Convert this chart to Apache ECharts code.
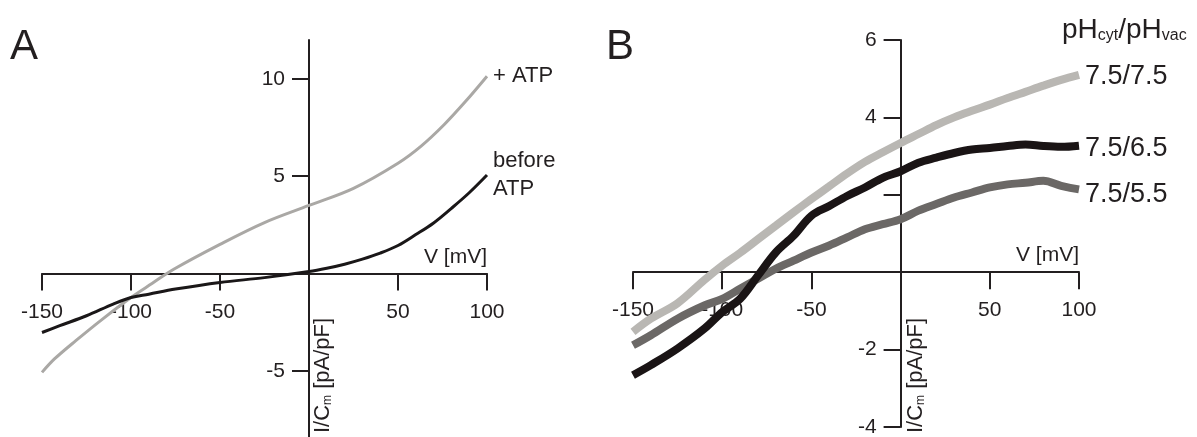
<!DOCTYPE html>
<html>
<head>
<meta charset="utf-8">
<script src="https://cdn.jsdelivr.net/npm/echarts@6/dist/echarts.min.js"></script>
<style>
html,body{margin:0;padding:0;background:#fff;}
#c{width:1197px;height:437px;}
</style>
</head>
<body>
<div id="c"></div>
<script>
// ---- Panel A data (V in mV, I/Cm in pA/pF)
const aVoltsPlus = [-150,-143,-131,-116,-100,-88,-76,-50,-25,0,25,50,63,76,88,100];
const aPlusATP   = [-5.08,-4.39,-3.45,-2.34,-1.23,-0.5,0.22,1.5,2.62,3.5,4.38,5.67,6.55,7.66,8.85,10.14];
const aVoltsBefore = [-150,-140,-125,-110,-100,-90,-75,-50,-25,0,10,20,30,40,50,60,70,80,90,100];
const aBeforeATP   = [-3.03,-2.68,-2.17,-1.57,-1.23,-1.06,-0.8,-0.46,-0.21,0.1,0.27,0.48,0.74,1.05,1.44,2.0,2.6,3.35,4.15,5.06];

// ---- Panel B data
const bVolts = [-150,-140,-125,-110,-100,-90,-80,-70,-60,-50,-40,-30,-20,-10,0,10,20,30,40,50,60,70,80,90,100];
const bPH75  = [-1.54,-1.2,-0.8,-0.2,0.17,0.5,0.85,1.2,1.55,1.89,2.22,2.55,2.85,3.1,3.34,3.57,3.8,4.0,4.17,4.33,4.5,4.66,4.82,4.97,5.1];
const bPH65  = [-2.66,-2.4,-1.97,-1.46,-1.03,-0.69,-0.09,0.51,0.94,1.46,1.71,1.97,2.19,2.44,2.61,2.83,2.96,3.08,3.17,3.21,3.26,3.3,3.26,3.24,3.27];
const bPH55  = [-1.89,-1.63,-1.2,-0.86,-0.69,-0.43,-0.17,0.09,0.3,0.51,0.69,0.9,1.11,1.24,1.37,1.59,1.76,1.93,2.06,2.19,2.27,2.31,2.36,2.23,2.14];

// ---- Tick labels
const xTickLabels = [-150,-100,-50,50,100];
const xTicks = [-150,-100,-50,50,100];
const aYTicks = [-5,5,10];
const bYTicks = [-4,-2,2,4,6];
const bYLabels = [-4,-2,4,6];

const names = {aPlus:'+ ATP', aBefore:'before\nATP', b75:'7.5/7.5', b65:'7.5/6.5', b55:'7.5/5.5'};

function pairs(xs, ys){ return xs.map((x,i)=>[x, ys[i]]); }

const FONT = 'Liberation Sans, Arial, sans-serif';
const AX = '#231f20';
const tickFont = {fontFamily: FONT, fontSize: 21, color: AX};

// grid geometry (layout only)
const G = [
  {left:42, width:445, top:40, height:397, ymin:-8.4, ymax:12},
  {left:633, width:446, top:40, height:387, ymin:-4, ymax:6}
];
function zeroY(g){ return g.top + g.height * g.ymax/(g.ymax-g.ymin); }
function zeroX(g){ return g.left + g.width * 150/250; }

function xAxisCfg(gi){
  const g = G[gi];
  return {
    type:'value', gridIndex: gi, min:-150, max:100, position:'bottom',
    offset: -(g.top + g.height - zeroY(g)),
    axisLine:{onZero:false, lineStyle:{color:AX, width:2}},
    axisTick:{show:true, length:17, customValues: xTicks, lineStyle:{color:AX, width:2}},
    axisLabel:Object.assign({customValues: xTickLabels, margin: 28}, tickFont),
    splitLine:{show:false},
    name:'V [mV]', nameLocation:'end', nameGap: 0,
    nameTextStyle:{fontFamily:FONT, fontSize:21, color:AX, align:'right', verticalAlign:'bottom', padding:[0,0,6,0]}
  };
}
function yAxisCfg(gi, ticks, labels){
  const g = G[gi];
  return {
    type:'value', gridIndex: gi, min:g.ymin, max:g.ymax, position:'left',
    offset: -(zeroX(g) - g.left),
    axisLine:{onZero:false, lineStyle:{color:AX, width:2}},
    axisTick:{show:true, length:17, customValues: ticks, lineStyle:{color:AX, width:2}},
    axisLabel:Object.assign({customValues: labels, margin: 24}, tickFont),
    splitLine:{show:false}
  };
}

function lineSeries(name, xi, data, color, width, dy){
  return {
    type:'line', name:name, xAxisIndex:xi, yAxisIndex:xi, data:data,
    showSymbol:false, smooth:0.35, animation:false,
    lineStyle:{color:color, width:width},
    endLabel:{show:true, formatter:'{a}', distance:6, fontFamily:FONT, color:AX,
      offset:[0, dy||0],
      fontSize: xi===0 ? 22 : 27, lineHeight: xi===0 ? 28 : 30}
  };
}

const yNameRich = {t:{fontFamily:FONT, fontSize:22, fill:AX}, s:{fontFamily:FONT, fontSize:12, fill:AX, padding:[9,0,0,0]}};

const chart = echarts.init(document.getElementById('c'), null, {renderer:'canvas'});
chart.setOption({
  backgroundColor:'#ffffff',
  animation:false,
  grid: G.map(g => ({left:g.left, width:g.width, top:g.top, height:g.height, outerBoundsMode:'none', containLabel:false})),
  xAxis:[xAxisCfg(0), xAxisCfg(1)],
  yAxis:[yAxisCfg(0,aYTicks,aYTicks), yAxisCfg(1,bYTicks,bYLabels)],
  series:[
    lineSeries(names.aPlus, 0, pairs(aVoltsPlus, aPlusATP), '#aaa8a5', 3, 0),
    lineSeries(names.aBefore, 0, pairs(aVoltsBefore, aBeforeATP), '#1a1718', 3, 0),
    lineSeries(names.b75, 1, pairs(bVolts, bPH75), '#b9b7b3', 8, 2),
    lineSeries(names.b55, 1, pairs(bVolts, bPH55), '#6b6866', 8, 5),
    lineSeries(names.b65, 1, pairs(bVolts, bPH65), '#1a1415', 8, 3)
  ],
  graphic:[
    {type:'text', left:10, top:26, style:{text:'A', fontFamily:FONT, fontSize:42, fill:AX}},
    {type:'text', left:606, top:26, style:{text:'B', fontFamily:FONT, fontSize:42, fill:AX}},
    {type:'text', x:312, y:433, rotation:Math.PI/2,
      style:{text:'{t|I/C}{s|m}{t| [pA/pF]}', fill:AX, rich:yNameRich}},
    {type:'text', x:905, y:433, rotation:Math.PI/2,
      style:{text:'{t|I/C}{s|m}{t| [pA/pF]}', fill:AX, rich:yNameRich}},
    {type:'text', x:1062, y:16,
      style:{text:'{t|pH}{s|cyt}{t|/pH}{s|vac}', fill:AX,
        rich:{t:{fontFamily:FONT, fontSize:28, fill:AX}, s:{fontFamily:FONT, fontSize:16, fill:AX, padding:[12,0,0,0]}}}}
  ]
});
</script>
</body>
</html>
